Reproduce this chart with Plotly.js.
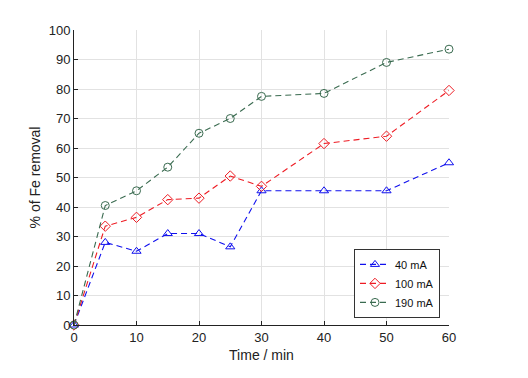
<!DOCTYPE html>
<html><head><meta charset="utf-8">
<script src="https://cdn.plot.ly/plotly-3.0.1.min.js"></script>
<style>html,body{margin:0;padding:0;background:#fff}</style>
</head><body>
<div id="chart" style="width:528px;height:378px"></div>
<script>
const time = [0, 5, 10, 15, 20, 25, 30, 40, 50, 60];
const fe40 = [0, 28, 25, 31, 31, 26.5, 45.5, 45.5, 45.5, 55];
const fe100 = [0, 33.5, 36.5, 42.5, 43, 50.5, 47, 61.5, 64, 79.5];
const fe190 = [0, 40.5, 45.5, 53.5, 65, 70, 77.5, 78.5, 89, 93.5];
const seriesNames = ['40 mA', '100 mA', '190 mA'];

function tr(y, name, color, sym) {
  return {x: time, y: y, name: name, type: 'scatter', mode: 'lines+markers',
    cliponaxis: false,
    line: {color: color, width: 1.1, dash: '6px,4px'},
    marker: {symbol: sym, size: 8, color: color, line: {color: color, width: 1}}};
}
const data = [
  tr(fe40, seriesNames[0], '#1010ee', 'triangle-up-open'),
  tr(fe100, seriesNames[1], '#ee1c24', 'diamond-open'),
  tr(fe190, seriesNames[2], '#3a6b50', 'circle-open')
];
const font = {family: 'Liberation Sans, Arial, sans-serif', color: '#222', size: 13};
const layout = {
  width: 528, height: 378,
  margin: {l: 74, r: 79, t: 30, b: 53},
  paper_bgcolor: '#fff', plot_bgcolor: '#fff',
  font: font,
  showlegend: true,
  legend: {x: 0.976, y: 0.024, xanchor: 'right', yanchor: 'bottom',
    bordercolor: '#333', borderwidth: 1, bgcolor: '#fff',
    font: {family: font.family, size: 11, color: '#111'}, tracegroupgap: 0, itemwidth: 30},
  xaxis: {range: [0, 60], dtick: 10, showgrid: true, gridcolor: '#e2e2e2',
    showline: true, linecolor: '#222', linewidth: 1, ticks: 'inside', ticklen: 4,
    tickcolor: '#222', zeroline: false, mirror: false,
    title: {text: 'Time / min', font: {size: 14}, standoff: 6}},
  yaxis: {range: [0, 100], dtick: 10, showgrid: true, gridcolor: '#e2e2e2',
    showline: true, linecolor: '#222', linewidth: 1, ticks: 'inside', ticklen: 4,
    tickcolor: '#222', zeroline: false,
    title: {text: '% of Fe removal', font: {size: 14}, standoff: 4}}
};
Plotly.newPlot('chart', data, layout, {displayModeBar: false});
</script>
</body></html>
